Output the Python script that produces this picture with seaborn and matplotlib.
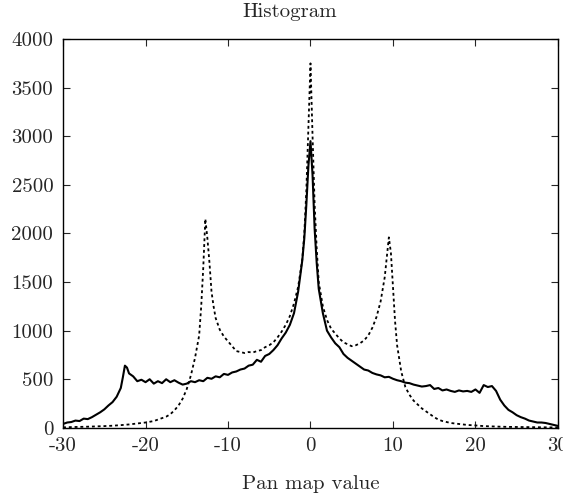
import matplotlib
matplotlib.use('Agg')
import matplotlib.pyplot as plt
import pandas as pd
import seaborn as sns


# Values (pan map histogram)
solid_x = [-30, -29.5, -29, -28.5, -28, -27.5, -27, -26.5, -26, -25.5, -25, -24.5,
           -24, -23.5, -23, -22.75, -22.5, -22.25, -22, -21.5, -21, -20.5, -20,
           -19.5, -19, -18.5, -18, -17.5, -17, -16.5, -16, -15.5, -15, -14.5, -14,
           -13.5, -13, -12.5, -12, -11.5, -11, -10.5, -10, -9.5, -9, -8.5, -8,
           -7.5, -7, -6.5, -6, -5.5, -5, -4.5, -4, -3.5, -3, -2.5, -2, -1.5, -1,
           -0.75, -0.5, -0.25, 0, 0.25, 0.5, 0.75, 1, 1.5, 2, 2.5, 3, 3.5, 4, 4.5,
           5, 5.5, 6, 6.5, 7, 7.5, 8, 8.5, 9, 9.5, 10, 10.5, 11, 11.5, 12, 12.5,
           13, 13.5, 14, 14.5, 15, 15.5, 16, 16.5, 17, 17.5, 18, 18.5, 19, 19.5,
           20, 20.5, 21, 21.5, 22, 22.5, 23, 23.5, 24, 24.5, 25, 25.5, 26, 26.5,
           27, 27.5, 28, 28.5, 29, 29.5, 30]
solid_y = [40, 55, 60, 75, 70, 95, 90, 110, 135, 160, 190, 230,
           265, 320, 410, 520, 640, 620, 560, 530, 480, 495, 470,
           500, 455, 480, 460, 500, 470, 490, 465, 445, 455, 480, 470,
           490, 480, 515, 505, 530, 520, 555, 545, 570, 580, 600, 610,
           640, 650, 700, 680, 740, 760, 800, 850, 920, 980, 1060, 1180, 1400, 1720,
           1950, 2300, 2700, 2950, 2600, 2050, 1700, 1430, 1180, 1000, 930, 870, 830, 760, 720,
           690, 660, 630, 600, 590, 565, 550, 540, 520, 525, 505, 490, 480, 465, 460, 445,
           435, 425, 430, 440, 400, 410, 385, 395, 380, 370, 385, 375, 380, 370,
           395, 360, 440, 420, 430, 380, 290, 230, 185, 160, 130, 110, 95, 75,
           65, 55, 55, 50, 40, 30, 20]

dotted_x = [-30, -29, -28, -27, -26, -25, -24, -23, -22, -21, -20, -19, -18.5, -18,
            -17.5, -17, -16.5, -16, -15.5, -15, -14.5, -14, -13.5, -13.25, -13,
            -12.75, -12.5, -12.25, -12, -11.75, -11.5, -11, -10.5, -10, -9.5, -9,
            -8.5, -8, -7.5, -7, -6.5, -6, -5.5, -5, -4.5, -4, -3.5, -3, -2.5, -2,
            -1.5, -1, -0.75, -0.5, -0.25, 0, 0.25, 0.5, 0.75, 1, 1.5, 2, 2.5, 3,
            3.5, 4, 4.5, 5, 5.5, 6, 6.5, 7, 7.5, 8, 8.5, 9, 9.5, 9.75, 10, 10.25,
            10.5, 11, 11.5, 12, 12.5, 13, 13.5, 14, 14.5, 15, 15.5, 16, 16.5, 17,
            18, 19, 20, 21, 22, 23, 24, 25, 26, 27, 28, 29, 30]
dotted_y = [5, 8, 10, 12, 15, 18, 22, 28, 35, 45, 55, 70, 85, 100,
            115, 140, 180, 230, 300, 400, 540, 720, 950, 1250, 1650,
            2150, 1950, 1700, 1400, 1250, 1130, 1010, 940, 890, 840, 790,
            780, 770, 780, 775, 790, 800, 830, 850, 880, 930, 990, 1060, 1150, 1280,
            1450, 1730, 2000, 2450, 3100, 3750, 3000, 2300, 1850, 1500, 1250, 1110, 1020, 970,
            920, 880, 860, 840, 850, 870, 900, 950, 1030, 1140, 1300, 1550, 1960, 1800, 1450, 1100,
            850, 580, 420, 340, 280, 240, 200, 170, 140, 110, 85, 70, 60, 50,
            40, 30, 25, 18, 15, 12, 10, 9, 8, 7, 6, 5, 4]

xticks = [-30, -20, -10, 0, 10, 20, 30]
yticks = [0, 500, 1000, 1500, 2000, 2500, 3000, 3500, 4000]


if __name__ == '__main__':
    sns.set_style('ticks')
    plt.rcParams['font.family'] = ['cmr10', 'DejaVu Serif']
    plt.rcParams['axes.unicode_minus'] = False
    plt.rcParams['axes.linewidth'] = 1.0

    df_solid = pd.DataFrame({'x': solid_x, 'y': solid_y})
    df_dotted = pd.DataFrame({'x': dotted_x, 'y': dotted_y})

    fig, ax = plt.subplots(figsize=(5.63, 5.01), dpi=100)
    sns.lineplot(data=df_solid, x='x', y='y', ax=ax, color='black',
                 linewidth=1.5)
    sns.lineplot(data=df_dotted, x='x', y='y', ax=ax, color='black',
                 linewidth=1.3, dashes=(1.6, 1.6))

    ax.set_xlim(-30, 30)
    ax.set_ylim(0, 4000)
    ax.set_xticks(xticks)
    ax.set_yticks(yticks)
    ax.tick_params(direction='in', length=5, width=0.8, labelsize=15,
                   top=True, right=True, pad=7)
    # gnuplot-style title, centred on the canvas rather than the axes
    fig.text(0.514, 0.976, 'Histogram', fontsize=15, ha='center', va='center')
    ax.set_xlabel('Pan map value', fontsize=15, labelpad=14)
    ax.set_ylabel('')
    for s in ax.spines.values():
        s.set_color('black')

    plt.subplots_adjust(left=0.112, right=0.991, top=0.922, bottom=0.146)
    plt.savefig('out.png', dpi=100)
    plt.close()
